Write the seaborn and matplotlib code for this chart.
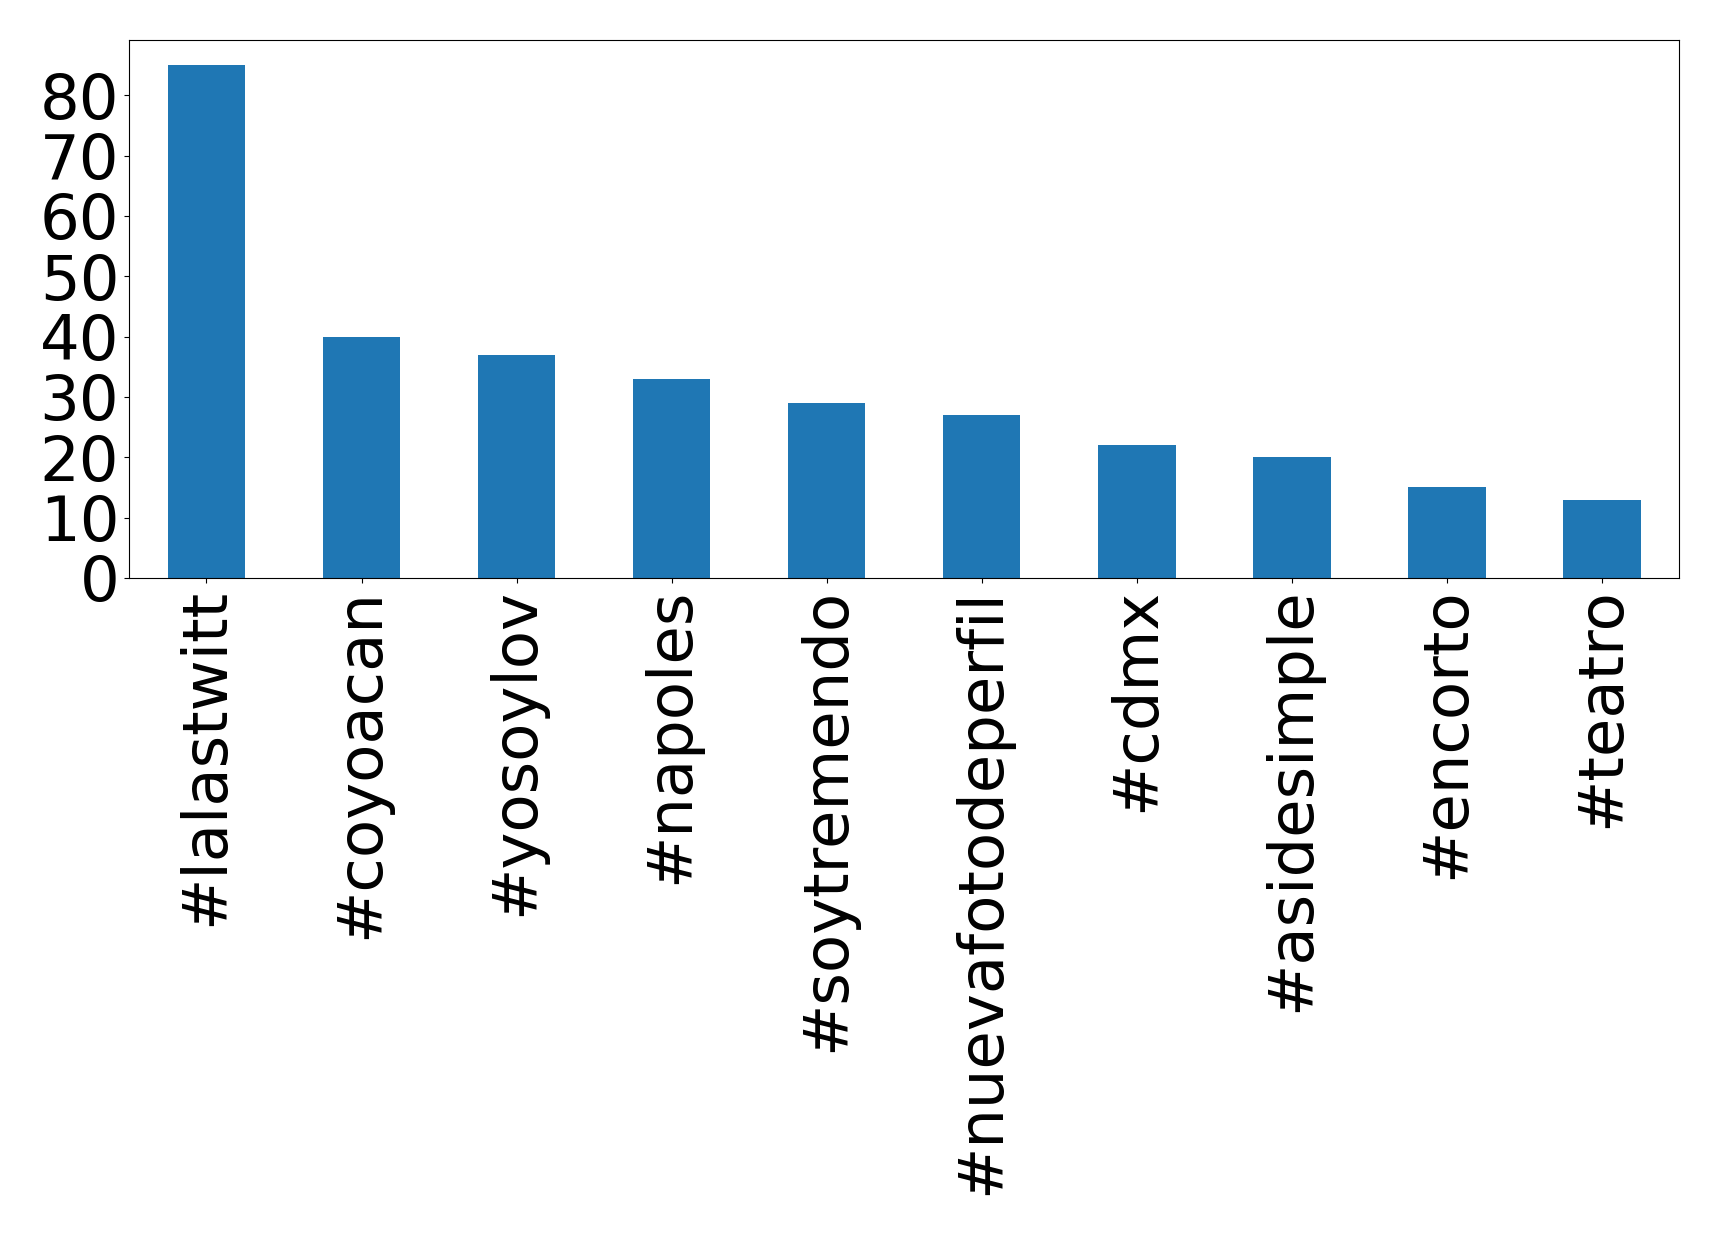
import pandas as pd
import seaborn as sns
import matplotlib.pyplot as plt
from matplotlib.ticker import MultipleLocator

hashtags = ['#lalastwitt', '#coyoacan', '#yosoylov', '#napoles', '#soytremendo',
            '#nuevafotodeperfil', '#cdmx', '#asidesimple', '#encorto', '#teatro']
counts = [85, 40, 37, 33, 29, 27, 22, 20, 15, 13]

data = pd.DataFrame({'hashtag': hashtags, 'count': counts})

fig, ax = plt.subplots(figsize=(17.19, 12.35), dpi=100)
sns.barplot(x='hashtag', y='count', data=data, color='#1f77b4', saturation=1,
            width=0.5, ax=ax)
ax.set_xlim(-0.5, len(hashtags) - 0.5)
ax.set_ylim(0, max(counts) * 1.05)
ax.yaxis.set_major_locator(MultipleLocator(10))
ax.set_xlabel('')
ax.set_ylabel('')
ax.tick_params(axis='both', labelsize=45)
plt.setp(ax.get_xticklabels(), rotation=90)
fig.subplots_adjust(left=0.075, right=0.977, top=0.968, bottom=0.532)
plt.savefig('out.png', dpi=100)
